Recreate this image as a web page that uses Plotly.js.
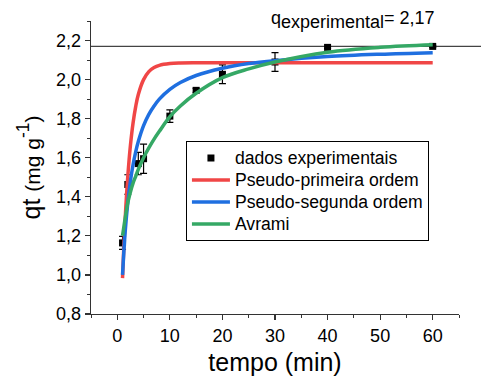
<!DOCTYPE html>
<html>
<head>
<meta charset="utf-8">
<script src="https://cdn.plot.ly/plotly-3.0.1.min.js"></script>
<style>html,body{margin:0;padding:0;background:#fff;}#chart{width:481px;height:379px;}</style>
</head>
<body>
<div id="chart"></div>
<script>
// Experimental data
const tExp = [1, 2, 4, 5, 10, 15, 20, 30, 40, 60];
const qExp = [1.164, 1.463, 1.570, 1.595, 1.813, 1.945, 2.027, 2.090, 2.165, 2.170];
const qErr = [0.033, 0.050, 0.057, 0.075, 0.032, 0.010, 0.048, 0.048, 0.005, 0.005];

// Model curves
const tModel = [1, 1.5, 2, 2.5, 3, 3.5, 4, 5, 6, 7, 8, 10, 12, 15, 20, 25, 30, 40, 50, 60];
const qPFO = [0.984, 1.285, 1.504, 1.663, 1.778, 1.862, 1.924, 2.000, 2.041, 2.062, 2.073, 2.082, 2.085, 2.086, 2.086, 2.086, 2.086, 2.086, 2.086, 2.086];
const qPSO = [1.000, 1.220, 1.371, 1.481, 1.564, 1.630, 1.683, 1.764, 1.822, 1.865, 1.900, 1.950, 1.985, 2.021, 2.058, 2.082, 2.097, 2.118, 2.130, 2.138];
const qAvrami = [1.200, 1.290, 1.370, 1.425, 1.470, 1.505, 1.540, 1.600, 1.650, 1.695, 1.735, 1.810, 1.865, 1.930, 2.010, 2.055, 2.090, 2.140, 2.165, 2.178];

const qExperimental = 2.17;
const seriesNames = ['dados experimentais', 'Pseudo-primeira ordem', 'Pseudo-segunda ordem', 'Avrami'];
const xTicks = [0, 10, 20, 30, 40, 50, 60];
const yTicks = [0.8, 1.0, 1.2, 1.4, 1.6, 1.8, 2.0, 2.2];

const FONT = 'Liberation Sans, Arial, sans-serif';
const legName = s => '<span style="font-size:17.6px">' + s + '</span>';

const traces = [
  {
    x: tExp, y: qExp, name: legName(seriesNames[0]), type: 'scatter', mode: 'markers',
    marker: {symbol: 'square', size: 7, color: '#000'},
    error_y: {type: 'data', array: qErr, visible: true, color: '#000', thickness: 1.2, width: 3.5}
  },
  {
    x: tModel, y: qPFO, name: legName(seriesNames[1]), type: 'scatter', mode: 'lines',
    line: {color: '#F04646', width: 3.5, shape: 'spline'}
  },
  {
    x: tModel, y: qPSO, name: legName(seriesNames[2]), type: 'scatter', mode: 'lines',
    line: {color: '#1F6FE0', width: 3.5, shape: 'spline'}
  },
  {
    x: tModel, y: qAvrami, name: legName(seriesNames[3]), type: 'scatter', mode: 'lines',
    line: {color: '#35A865', width: 3.5, shape: 'spline'}
  }
];

const axisCommon = {
  showgrid: false, zeroline: false, showline: true, linecolor: '#333', linewidth: 1.3,
  ticks: 'outside', ticklen: 5, tickwidth: 1.2, tickcolor: '#333',
  tickfont: {family: FONT, size: 18, color: '#000'},
  mirror: false
};

const layout = {
  width: 481, height: 379,
  margin: {l: 91, r: 22, t: 21, b: 65},
  paper_bgcolor: '#fff', plot_bgcolor: '#fff',
  separators: ', ',
  showlegend: true,
  font: {family: FONT, color: '#000'},
  xaxis: Object.assign({}, axisCommon, {
    range: [-5, 65], tickvals: xTicks, ticktext: xTicks.map(String),
    minor: {dtick: 5, tick0: 0, ticks: 'outside', ticklen: 3, tickcolor: '#333', tickwidth: 1},
    title: {text: 'tempo (min)', font: {family: FONT, size: 25, color: '#000'}, standoff: 8}
  }),
  yaxis: Object.assign({}, axisCommon, {
    range: [0.8, 2.3], tickvals: yTicks, tickformat: '.1f',
    minor: {dtick: 0.1, tick0: 0, ticks: 'outside', ticklen: 3, tickcolor: '#333', tickwidth: 1},
    title: {text: '\u00a0qt <span style="font-size:21px">(mg g</span><sup>-1</sup><span style="font-size:21px">)</span>', font: {family: FONT, size: 25, color: '#000'}, standoff: 8}
  }),
  legend: {
    x: 0.258, y: 0.59, xanchor: 'left', yanchor: 'top',
    bgcolor: '#fff', bordercolor: '#000', borderwidth: 1,
    font: {family: FONT, size: 14.6, color: '#000'},
    itemwidth: 38, tracegroupgap: 0
  },
  shapes: [
    {type: 'line', xref: 'paper', yref: 'y', x0: 0, x1: 1.07, y0: qExperimental, y1: qExperimental,
     line: {color: '#444', width: 1.2}, layer: 'below'}
  ],
  annotations: [
    {xref: 'paper', yref: 'paper', x: 0.483, y: 1.005, xanchor: 'left', yanchor: 'middle', showarrow: false,
     text: 'q<sub><span style="font-size:18px">experimental</span></sub>= 2,17',
     font: {family: FONT, size: 18, color: '#000'}}
  ]
};

Plotly.newPlot('chart', traces, layout, {displayModeBar: false, staticPlot: true});
</script>
</body>
</html>
